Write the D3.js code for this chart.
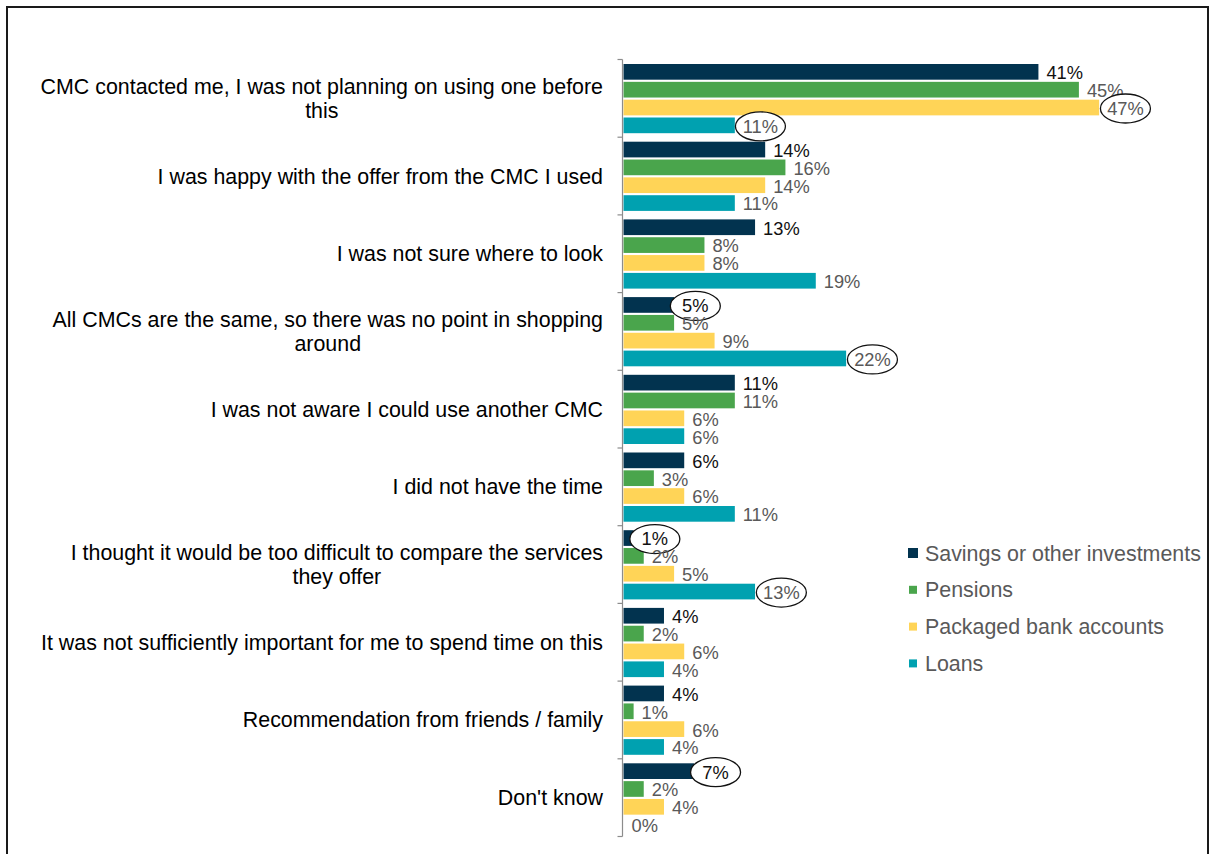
<!DOCTYPE html>
<html>
<head>
<meta charset="utf-8">
<script src="https://cdn.jsdelivr.net/npm/d3@7"></script>
<style>
  html, body { margin: 0; padding: 0; background: #fff; }
  svg { display: block; font-family: "Liberation Sans", Arial, sans-serif; }
</style>
</head>
<body>
<svg id="chart" width="1210" height="854"></svg>
<script>
// Reasons given for not shopping around, by product type (% of respondents)
const categories = [
  "CMC contacted me, I was not planning on using one before\nthis",
  "I was happy with the offer from the CMC I used",
  "I was not sure where to look",
  "All CMCs are the same, so there was no point in shopping\naround",
  "I was not aware I could use another CMC",
  "I did not have the time",
  "I thought it would be too difficult to compare the services\nthey offer",
  "It was not sufficiently important for me to spend time on this",
  "Recommendation from friends / family",
  "Don't know"
];
const seriesNames = ["Savings or other investments", "Pensions", "Packaged bank accounts", "Loans"];
const savings  = [41, 14, 13, 5, 11, 6, 1, 4, 4, 7];
const pensions = [45, 16, 8, 5, 11, 3, 2, 2, 1, 2];
const packaged = [47, 14, 8, 9, 6, 6, 5, 6, 6, 4];
const loans    = [11, 11, 19, 22, 6, 11, 13, 4, 4, 0];
const seriesValues = [savings, pensions, packaged, loans];
const seriesColors = ["#02334F", "#4AA54C", "#FFD457", "#00A1B0"];
// labels ringed for emphasis: [series index, category index]
const circled = [[2, 0], [3, 0], [0, 3], [3, 3], [0, 6], [3, 6], [0, 9]];

const svg = d3.select("#chart");

// outer frame
svg.append("rect")
  .attr("x", 7).attr("y", 7).attr("width", 1201).attr("height", 900)
  .attr("fill", "none").attr("stroke", "#1a1a1a").attr("stroke-width", 2);

const axisX = 622.5;
const x = d3.scaleLinear().domain([0, 50]).range([axisX + 1, axisX + 1 + 506]);
const y = d3.scaleBand().domain(d3.range(categories.length)).range([59.5, 836.5]).padding(0);
const ys = d3.scaleBand().domain(d3.range(seriesNames.length))
  .range([4.5, y.bandwidth() - 4]).paddingInner(0.12);

const rows = [];
seriesValues.forEach((vals, s) => vals.forEach((v, c) => rows.push({ s, c, v })));

// bars
svg.append("g").selectAll("rect").data(rows).join("rect")
  .attr("x", x(0))
  .attr("y", d => y(d.c) + ys(d.s))
  .attr("width", d => x(d.v) - x(0))
  .attr("height", ys.bandwidth())
  .attr("fill", d => seriesColors[d.s]);

// category axis
const axis = svg.append("g").attr("stroke", "#8c8c8c").attr("stroke-width", 1.2);
axis.append("line").attr("x1", axisX).attr("x2", axisX)
  .attr("y1", y.range()[0]).attr("y2", y.range()[1]);
axis.selectAll("line.tick").data(d3.range(categories.length + 1)).join("line")
  .attr("class", "tick")
  .attr("x1", axisX - 5).attr("x2", axisX)
  .attr("y1", i => i < categories.length ? y(i) : y.range()[1])
  .attr("y2", i => i < categories.length ? y(i) : y.range()[1]);

// category labels: block right-aligned, lines centred within the block
const catFont = 21.4, lineH = 24, labelRight = 603;
const catG = svg.append("g").attr("font-size", catFont).attr("fill", "#000");
categories.forEach((label, c) => {
  const lines = label.split("\n");
  const g = catG.append("g");
  const texts = lines.map((ln, i) => g.append("text").text(ln));
  const widths = texts.map(t => t.node().getComputedTextLength());
  const blockW = d3.max(widths);
  const cy = y(c) + y.bandwidth() / 2;
  const top = cy - (lines.length - 1) * lineH / 2;
  texts.forEach((t, i) => {
    t.attr("text-anchor", "middle")
     .attr("x", labelRight - blockW / 2)
     .attr("y", top + i * lineH + catFont * 0.35);
  });
});

// value labels
const valFont = 18.3;
const isCircled = (s, c) => circled.some(p => p[0] === s && p[1] === c);
const valG = svg.append("g").attr("font-size", valFont);
rows.forEach(d => {
  const cy = y(d.c) + ys(d.s) + ys.bandwidth() / 2;
  const t = valG.append("text")
    .attr("x", x(d.v) + 8)
    .attr("y", cy + valFont * 0.35 + 1)
    .attr("fill", d.s === 0 ? "#111" : "#595959")
    .text(d.v + "%");
  if (isCircled(d.s, d.c)) {
    const w = t.node().getComputedTextLength();
    const cx = x(d.v) + 8 + w / 2;
    valG.insert("ellipse", () => t.node())
      .attr("cx", cx).attr("cy", cy + 1)
      .attr("rx", 25).attr("ry", 14.5)
      .attr("fill", "#fff").attr("stroke", "#111").attr("stroke-width", 1.3);
  }
});

// legend
const legFont = 21.4;
const legend = svg.append("g").attr("transform", "translate(908,553)");
seriesNames.forEach((name, i) => {
  const g = legend.append("g").attr("transform", `translate(0,${i * 36.8})`);
  const sz = i === 0 ? 10 : 8;
  g.append("rect").attr("x", (10 - sz) / 2).attr("y", -sz / 2).attr("width", sz).attr("height", sz)
    .attr("fill", seriesColors[i]);
  g.append("text").attr("x", 17).attr("y", legFont * 0.35)
    .attr("font-size", legFont).attr("fill", "#595959").text(name);
});
</script>
</body>
</html>
